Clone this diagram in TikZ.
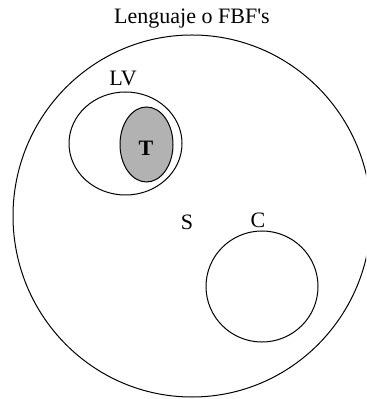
\documentclass[tikz,border=0pt]{standalone}
\usepackage{fontspec}
\setmainfont{Liberation Serif}
\usepackage{tikz}
\usetikzlibrary{calc}

\begin{document}
\begin{tikzpicture}[x=0.5pt,y=-0.5pt,line width=0.5pt,
    etiqueta/.style={font=\fontsize{11}{13}\selectfont, inner sep=0pt}]
    \useasboundingbox (0,0) rectangle (366,399);
    \clip (0,0) rectangle (366,399);

    % lenguaje
    \draw (192,216) ellipse (179 and 181);
    \node[etiqueta] (leng) at (192,19) {Lenguaje o FBF\textquotesingle s};

    % LV
    \draw (125.5,143.5) ellipse (56.5 and 51.5);
    \node[etiqueta] (lv) at (123,78) {LV};

    % T
    \draw[fill=black!30] (146.5,144.5) ellipse (26.5 and 37.5);
    \node[etiqueta] (t) at (146,148) {\textbf{T}};

    % S
    \node[etiqueta] (s) at (187,222) {S};

    % C
    \draw (262,286.5) ellipse (56 and 55.5);
    \node[etiqueta] (c) at (258,220) {C};
\end{tikzpicture}
\end{document}
